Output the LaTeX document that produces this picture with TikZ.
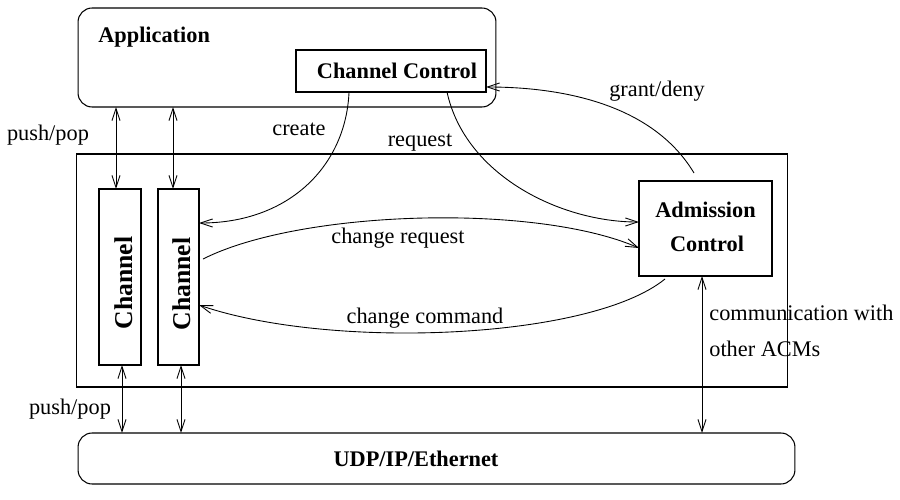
\documentclass[tikz,border=0pt]{standalone}
\usepackage{fontspec}
\setmainfont{Liberation Serif}
\usetikzlibrary{arrows.meta,calc}
\begin{document}
\begin{tikzpicture}[x=0.02cm,y=-0.02cm,
  box/.style={draw, line width=0.6pt, inner sep=0pt, outer sep=0pt, rectangle},
  roundbox/.style={box, rounded corners=8pt},
  barb/.tip={Straight Barb[length=7pt,width=4.6pt,line width=0.5pt]},
  conn/.style={line width=0.5pt, -barb},
  biconn/.style={line width=0.5pt, barb-barb},
  lbl/.style={font=\fontsize{12.7}{15}\selectfont, inner sep=0pt, anchor=base},
  title/.style={font=\fontsize{12.7}{15}\selectfont\bfseries, inner sep=0pt, anchor=base},
  chantext/.style={font=\fontsize{14.6}{17}\selectfont\bfseries, inner sep=0pt, anchor=base, rotate=90},
]
\useasboundingbox (0,0) rectangle (900,500);

% application layer
\node[roundbox, minimum width=8.36cm, minimum height=1.98cm] (app) at (287,57.5) {};
\node[title, anchor=base west] (apptxt) at (98,43) {Application};
\node[box, minimum width=3.8cm, minimum height=0.84cm] (cc) at (391,71) {};
\node[title] (cctxt) at (397,79) {Channel Control};

% middle layer with channels and admission control
\node[box, minimum width=14.24cm, minimum height=4.66cm] (mid) at (432,270.5) {};
\node[box, minimum width=0.84cm, minimum height=3.52cm] (ch1) at (120,277) {};
\node[box, minimum width=0.82cm, minimum height=3.52cm] (ch2) at (178.5,277) {};
\node[chantext] (ch1txt) at (132,283) {Channel};
\node[chantext] (ch2txt) at (190,284) {Channel};
\node[box, minimum width=2.66cm, minimum height=1.9cm] (adm) at (705.5,228.5) {};
\node[title] (admtxt1) at (705.5,217) {Admission};
\node[title] (admtxt2) at (707,252) {Control};

% transport layer
\node[roundbox, minimum width=14.34cm, minimum height=1.02cm] (udp) at (436.5,458.5) {};
\node[title] (udptxt) at (416,466) {UDP/IP/Ethernet};

% vertical data paths
\coordinate (xa) at (116,0);
\coordinate (xb) at (173,0);
\coordinate (xc) at (122,0);
\coordinate (xd) at (181,0);
\coordinate (xe) at (702,0);
\draw[biconn] (app.south -| xa) -- (ch1.north -| xa);
\draw[biconn] (app.south -| xb) -- (ch2.north -| xb);
\draw[biconn] (ch1.south -| xc) -- (udp.north -| xc);
\draw[biconn] (ch2.south -| xd) -- (udp.north -| xd);
\draw[biconn] (adm.south -| xe) -- (udp.north -| xe);

% control flows
\draw[conn] ($(cc.south west)+(53,0)$) .. controls (346,165) and (290,223) .. ($(ch2.north east)+(0,34)$);
\draw[conn] ($(cc.south west)+(151,0)$) .. controls (465,175) and (560,222) .. ($(adm.north west)+(0,41)$);
\draw[conn] ($(adm.north west)+(55,-8)$) .. controls (652,103) and (560,87) .. ($(cc.south east)+(0,-5)$);
\draw[conn] ($(ch2.north east)+(4,70)$) .. controls (300,210) and (535,203) .. ($(adm.north west)+(0,67)$);
\draw[conn] ($(adm.south west)+(26,3)$) .. controls (590,340) and (330,350) .. ($(ch2.north east)+(0,116)$);

% labels
\node[lbl] (lcreate) at (299,136) {create};
\node[lbl] (lrequest) at (420,147) {request};
\node[lbl] (lgrant) at (657,97) {grant/deny};
\node[lbl] (lchreq) at (398,243) {change request};
\node[lbl] (lchcmd) at (425,323) {change command};
\node[lbl] (lpush1) at (48,141) {push/pop};
\node[lbl] (lpush2) at (70,414) {push/pop};
\node[lbl, anchor=base west] (lcomm1) at (709,320) {communication with};
\node[lbl, anchor=base west] (lcomm2) at (709,356) {other ACMs};
\end{tikzpicture}
\end{document}
